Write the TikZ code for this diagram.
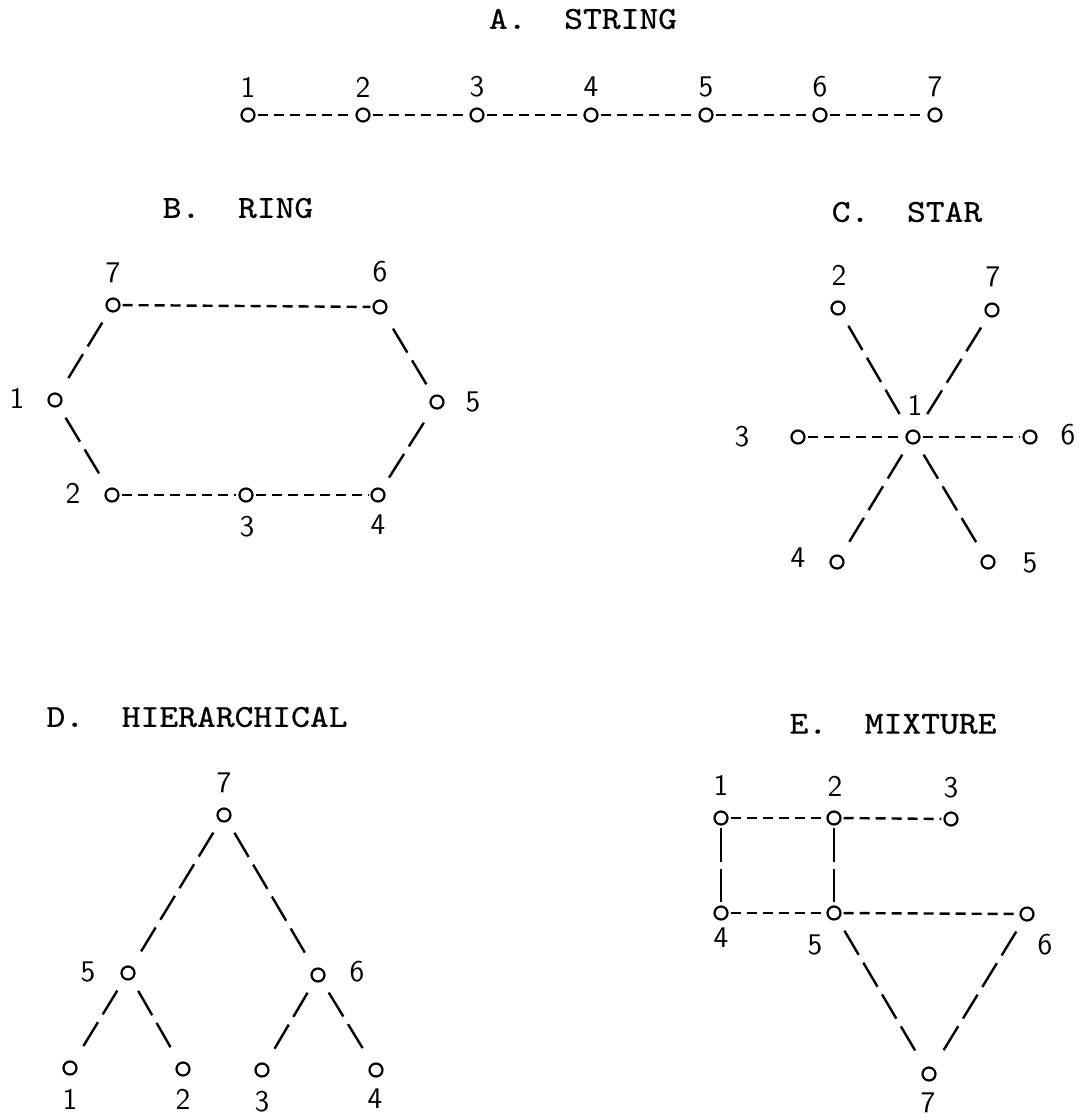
\documentclass[tikz,border=0pt]{standalone}
\usepackage{fontspec}
\usepackage{graphicx}
\newfontfamily\ttlfont[FakeBold=0.6]{lmmono10-regular.otf}
\begin{document}
\begin{tikzpicture}[x=0.5pt,y=-0.5pt,
  v/.style={circle,draw,line width=1.1pt,minimum size=6.5pt,inner sep=0pt},
  lab/.style={font=\sffamily\fontsize{15}{16}\selectfont,inner sep=0pt},
  ttl/.style={font=\ttlfont\fontsize{16}{18}\selectfont,inner sep=0pt},
  hd/.style={line width=1.2pt,dash pattern=on 5pt off 3pt,shorten <=1pt,shorten >=1pt},
  dg/.style={line width=1.2pt,dash pattern=on 14pt off 4.5pt,shorten <=6.5pt,shorten >=6.5pt},
  vd/.style={line width=1.2pt,dash pattern=on 17pt off 3.5pt,shorten <=1pt,shorten >=1.5pt}]
\path[use as bounding box] (0,0) rectangle (1078,1119);
\newcommand{\ttlt}[1]{\scalebox{1.12}[1]{#1}}
% ---------------- A. STRING
\node[ttl] (tA) at (583,19) {\ttlt{A.\ \ STRING}};
\foreach \i/\x in {1/248,2/363,3/477,4/591,5/706,6/820,7/935}{
  \node[v] (a\i) at (\x,115) {};
  \node[lab] (la\i) at (\x,87) {\i};
}
\foreach \i/\j in {1/2,2/3,3/4,4/5,5/6,6/7} \draw[hd] (a\i) -- (a\j);
% ---------------- B. RING
\node[ttl] (tB) at (238,208) {\ttlt{B.\ \ RING}};
\node[v] (b7) at (113,305) {};
\node[v] (b6) at (380,307) {};
\node[v] (b1) at (55,400) {};
\node[v] (b5) at (437,402) {};
\node[v] (b2) at (112,495) {};
\node[v] (b3) at (246,495) {};
\node[v] (b4) at (378,495) {};
\node[lab] (lb7) at (113,273) {7};
\node[lab] (lb6) at (380,272) {6};
\node[lab] (lb1) at (17,398) {1};
\node[lab] (lb5) at (473,402) {5};
\node[lab] (lb2) at (73,493) {2};
\node[lab] (lb3) at (247,527) {3};
\node[lab] (lb4) at (378,525) {4};
\draw[hd] (b7) -- (b6);
\draw[hd] (b2) -- (b3);
\draw[hd] (b3) -- (b4);
\draw[dg] (b7) -- (b1);
\draw[dg] (b1) -- (b2);
\draw[dg] (b4) -- (b5);
\draw[dg] (b5) -- (b6);
% ---------------- C. STAR
\node[ttl] (tC) at (907,212) {\ttlt{C.\ \ STAR}};
\node[v] (c2) at (838,308) {};
\node[v] (c7) at (992,310) {};
\node[v] (c3) at (798,437) {};
\node[v] (c1) at (913,437) {};
\node[v] (c6) at (1030,437) {};
\node[v] (c4) at (837,562) {};
\node[v] (c5) at (988,562) {};
\node[lab] (lc2) at (839,275) {2};
\node[lab] (lc7) at (993,277) {7};
\node[lab] (lc1) at (915,405) {1};
\node[lab] (lc3) at (742,437) {3};
\node[lab] (lc6) at (1068,435) {6};
\node[lab] (lc4) at (798,558) {4};
\node[lab] (lc5) at (1030,563) {5};
\draw[dg] (c2) -- (c1);
\draw[dg] (c7) -- (c1);
\draw[dg] (c1) -- (c4);
\draw[dg] (c1) -- (c5);
\draw[hd] (c3) -- (c1);
\draw[hd] (c1) -- (c6);
% ---------------- D. HIERARCHICAL
\node[ttl] (tD) at (197,717) {\ttlt{D.\ \ HIERARCHICAL}};
\node[v] (d7) at (224,815) {};
\node[v] (d5) at (128,973) {};
\node[v] (d6) at (318,975) {};
\node[v] (d1) at (70,1068) {};
\node[v] (d2) at (183,1069) {};
\node[v] (d3) at (262,1070) {};
\node[v] (d4) at (376,1070) {};
\node[lab] (ld7) at (224,783) {7};
\node[lab] (ld5) at (88,972) {5};
\node[lab] (ld6) at (357,972) {6};
\node[lab] (ld1) at (70,1099) {1};
\node[lab] (ld2) at (183,1099) {2};
\node[lab] (ld3) at (262,1102) {3};
\node[lab] (ld4) at (375,1099) {4};
\draw[dg] (d7) -- (d5);
\draw[dg] (d7) -- (d6);
\draw[dg] (d5) -- (d1);
\draw[dg] (d5) -- (d2);
\draw[dg] (d6) -- (d3);
\draw[dg] (d6) -- (d4);
% ---------------- E. MIXTURE
\node[ttl] (tE) at (893,724) {\ttlt{E.\ \ MIXTURE}};
\node[v] (e1) at (721,818) {};
\node[v] (e2) at (834,818) {};
\node[v] (e3) at (951,819) {};
\node[v] (e4) at (721,913) {};
\node[v] (e5) at (834,913) {};
\node[v] (e6) at (1027,914) {};
\node[v] (e7) at (929,1074) {};
\node[lab] (le1) at (721,785) {1};
\node[lab] (le2) at (835,786) {2};
\node[lab] (le3) at (951,788) {3};
\node[lab] (le4) at (721,938) {4};
\node[lab] (le5) at (815,945) {5};
\node[lab] (le6) at (1045,945) {6};
\node[lab] (le7) at (928,1103) {7};
\draw[hd] (e1) -- (e2);
\draw[hd] (e2) -- (e3);
\draw[hd] (e4) -- (e5);
\draw[hd] (e5) -- (e6);
\draw[vd] (e1) -- (e4);
\draw[vd] (e2) -- (e5);
\draw[dg] (e5) -- (e7);
\draw[dg] (e6) -- (e7);
\end{tikzpicture}
\end{document}
